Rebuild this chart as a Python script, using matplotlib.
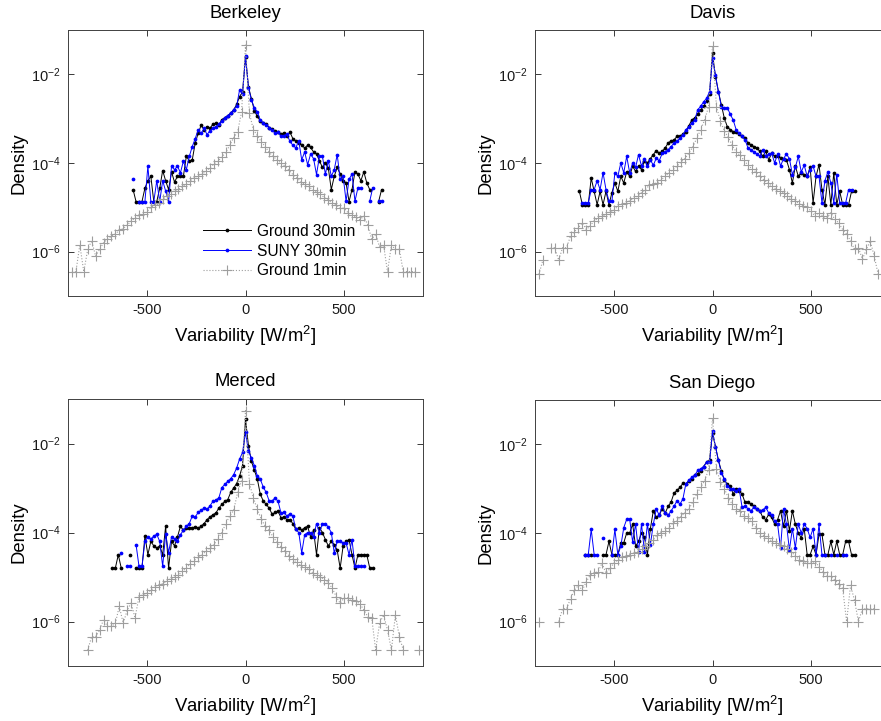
import matplotlib
matplotlib.use("Agg")
import matplotlib.pyplot as plt
import numpy as np
from matplotlib.ticker import FixedLocator, FixedFormatter, NullLocator

plt.rcParams["font.family"] = ["Liberation Sans", "DejaVu Sans"]
plt.rcParams["mathtext.fontset"] = "custom"
plt.rcParams["mathtext.rm"] = "Liberation Sans"
plt.rcParams["mathtext.it"] = "Liberation Sans:italic"
plt.rcParams["mathtext.bf"] = "Liberation Sans:bold"

nan = float("nan")

# values are log10(density), one per histogram bin
# 30 min bins: 15 W/m2 wide, 1 min bins: 20 W/m2 wide
step30 = 15
step1 = 20
start1 = -880

berkeley_start30 = -570
berkeley_ground30 = [
    -4.6, -4.87, -4.87, -4.87, -4.57, -4.4, -4.3, -4.87, -4.87, -4.57,
    -4.17, -4.4, -4.6, -4.2, -4.43, -4.3, -4.3, -4.3, -3.85, -3.95,
    -3.93, -3.55, -3.33, -3.15, -3.25, -3.18, -3.22, -3.12, -3.1, -3.15,
    -3.02, -2.98, -2.93, -2.88, -2.8, -2.68, -2.5, -2.4, -1.6, -2.28,
    -2.55, -2.82, -2.95, -3.05, -3.1, -3.12, -3.2, -3.24, -3.28, -3.3,
    -3.35, -3.32, -3.4, -3.3, -3.45, -3.5, -3.55, -3.6, -3.66, -3.6,
    -3.65, -3.75, -3.8, -3.95, -4.1, -4.0, -4.12, -4.6, -4.3, -4.1,
    -4.25, -4.4, -4.45, -4.87, -4.6, -4.2, -4.25, -4.4, -4.2, -4.45,
    -4.6, nan, nan, -4.87, -4.6]
berkeley_suny30 = [
    -4.37, nan, -4.87, -4.87, -4.87, -4.07, -4.87, -4.87, -4.4, -4.87,
    -4.4, -4.63, -4.87, -4.07, -4.15, -4.07, -4.22, -3.96, -4.15, -3.85,
    -3.63, -3.45, -3.25, -3.33, -3.22, -3.36, -3.27, -3.21, -3.18, -3.12,
    -3.05, -2.98, -2.93, -2.87, -2.8, -2.72, -2.35, -2.45, -1.59, -2.3,
    -2.58, -2.75, -2.85, -3.03, -3.1, -3.15, -3.2, -3.25, -3.33, -3.3,
    -3.4, -3.38, -3.35, -3.51, -3.6, -3.66, -3.5, -3.93, -3.75, -4.04,
    -3.8, -3.9, -4.26, -3.85, -3.85, -4.25, -3.95, -4.3, -4.15, -3.81,
    -4.37, -4.3, -4.86, -4.37, -4.25, -4.86, -4.56, -4.56, nan, nan,
    -4.86, -4.56, nan, -4.86, -4.86]
berkeley_ground1 = [
    -6.45, -6.45, -5.85, -6.45, -5.95, -5.75, -6.1, -5.95, -5.8, -5.72,
    -5.65, -5.6, -5.52, -5.48, -5.4, -5.31, -5.24, -5.18, -5.16, -5.1,
    -5.0, -4.95, -4.9, -4.82, -4.75, -4.69, -4.63, -4.59, -4.53, -4.47,
    -4.4, -4.33, -4.29, -4.25, -4.19, -4.11, -4.02, -3.96, -3.87, -3.76,
    -3.6, -3.43, -3.3, -2.85, -1.34, -2.88, -3.25, -3.38, -3.52, -3.63,
    -3.76, -3.85, -3.93, -4.0, -4.07, -4.16, -4.26, -4.33, -4.42, -4.48,
    -4.53, -4.6, -4.65, -4.71, -4.78, -4.84, -4.9, -4.95, -5.01, -5.02,
    -5.12, -5.18, -5.22, -5.28, -5.2, -5.4, -5.72, -5.6, -5.9, -5.85,
    -6.45, -5.85, -5.95, -5.95, -6.45, -6.45, -6.45, -6.45, nan]

davis_start30 = -675
davis_ground30 = [
    -4.64, -4.94, -4.94, -4.94, -4.34, -4.64, -4.94, -4.64, -4.94, -4.64,
    -4.94, -4.67, -4.45, -4.64, -4.3, -4.45, -4.2, -4.3, -4.07, -4.19,
    -4.07, -4.15, -3.95, -4.0, -3.9, -3.81, -3.72, -3.78, -3.74, -3.66,
    -3.55, -3.5, -3.48, -3.4, -3.4, -3.35, -3.29, -3.16, -3.03, -2.98,
    -2.9, -2.8, -2.72, -2.6, -2.45, -1.53, -2.05, -2.39, -2.69, -2.99,
    -3.18, -3.25, -3.29, -3.29, -3.35, -3.4, -3.44, -3.55, -3.59, -3.63,
    -3.66, -3.74, -3.85, -3.74, -3.93, -3.78, -3.85, -3.85, -3.89, -3.9,
    -3.93, -4.15, -4.45, -4.07, -4.3, -4.22, -4.26, -4.3, -4.1, -4.9,
    -4.3, -4.04, -4.6, -4.94, -4.3, -4.94, -4.22, -4.94, -4.64, -4.94,
    -4.94, -4.94, -4.64, -4.64]
davis_suny30 = [
    nan, -4.9, -4.9, -4.9, -4.6, -4.6, -4.4, -4.6, -4.22, -4.6,
    -4.86, -4.86, -4.22, -4.3, -4.0, -4.22, -3.85, -4.22, -4.0, -4.1,
    -3.81, -4.07, -3.9, -4.07, -3.93, -4.05, -3.89, -3.95, -3.78, -3.75,
    -3.7, -3.63, -3.55, -3.51, -3.44, -3.36, -3.25, -3.18, -3.1, -3.03,
    -2.8, -2.72, -2.62, -2.54, -2.39, -1.64, -2.02, -2.39, -2.73, -2.76,
    -2.75, -2.9, -3.03, -3.25, -3.33, -3.4, -3.48, -3.66, -3.7, -3.75,
    -3.8, -3.85, -3.7, -3.85, -3.8, -3.78, -4.0, -3.8, -4.07, -3.9,
    -3.8, -3.9, -4.26, -4.1, -3.85, -4.2, -4.05, -4.3, -4.15, -4.07,
    -4.3, -4.3, -4.9, -4.4, -4.2, -4.45, -4.9, -4.26, -4.9, -4.9,
    -4.9, -4.6, -4.6, nan]
davis_ground1 = [
    -6.51, -6.19, nan, -5.91, -5.91, -6.19, -5.91, -5.91, -5.65, -5.55,
    -5.46, -5.35, -5.5, -5.42, -5.3, -5.25, -5.2, -5.16, -5.1, -5.07,
    -4.97, -4.93, -4.9, -4.85, -4.8, -4.75, -4.67, -4.6, -4.5, -4.47,
    -4.45, -4.38, -4.3, -4.22, -4.15, -4.07, -3.98, -3.9, -3.78, -3.64,
    -3.44, -3.25, -3.03, -2.73, -1.36, -2.73, -3.05, -3.28, -3.42, -3.6,
    -3.75, -3.83, -3.94, -4.05, -4.13, -4.2, -4.3, -4.38, -4.45, -4.52,
    -4.58, -4.63, -4.68, -4.75, -4.82, -4.86, -4.92, -4.97, -4.99, -5.09,
    -5.2, -5.12, -5.2, -5.24, -5.12, -5.27, -5.35, -5.5, -5.6, -5.76,
    -5.95, -5.91, -6.17, -5.95, -5.76, -6.1, -6.51, nan, nan]

merced_start30 = -675
merced_ground30 = [
    -4.8, -4.8, -4.5, -4.8, nan, nan, -4.5, nan, -4.8, -4.8,
    -4.8, -4.08, -4.5, -4.2, -4.3, -4.35, -4.3, -4.5, -3.86, -4.8,
    -4.2, -4.3, -4.1, -3.86, -3.95, -3.9, -3.89, -3.9, -3.87, -3.9,
    -3.86, -3.8, -3.71, -3.65, -3.6, -3.56, -3.45, -3.37, -3.3, -3.26,
    -3.1, -3.0, -2.9, -2.73, -2.5, -1.45, -2.05, -2.4, -2.6, -2.8,
    -3.14, -3.29, -3.37, -3.45, -3.59, -3.55, -3.52, -3.67, -3.65, -3.71,
    -3.71, -3.8, -3.93, -3.9, -3.95, -3.89, -3.86, -4.1, -3.95, -4.5,
    -3.89, -4.0, -4.16, -4.3, -4.2, -4.27, -4.4, -4.8, -4.3, -4.2,
    -4.16, -4.5, -4.8, -4.5, -4.5, -4.5, -4.5, -4.8, -4.8]
merced_suny30 = [
    nan, nan, nan, -4.46, nan, -4.76, -4.76, nan, -4.27, -4.76,
    -4.76, -4.2, -4.1, -4.15, -4.08, -4.04, -4.2, -4.76, -4.04, -4.45,
    -4.1, -4.15, -4.2, -4.05, -3.95, -3.86, -3.8, -3.63, -3.65, -3.55,
    -3.5, -3.45, -3.48, -3.4, -3.3, -3.27, -3.22, -2.99, -2.92, -2.85,
    -2.79, -2.7, -2.55, -2.35, -2.2, -1.75, -2.17, -2.32, -2.5, -2.73,
    -2.8, -2.98, -3.1, -3.29, -3.29, -3.22, -3.3, -3.56, -3.55, -3.63,
    -3.58, -3.63, -3.93, -4.0, -4.46, -4.05, -4.0, -4.0, -4.1, -3.8,
    -4.0, -3.8, -3.8, -3.88, -4.0, -4.46, -4.2, -4.2, -4.23, -4.23,
    -4.5, -4.16, -4.76, -4.76, -4.76, -4.76, nan, nan, nan]
merced_ground1 = [
    nan, nan, nan, nan, -6.64, -6.34, -6.34, -6.2, -5.96, -6.11,
    -6.11, -6.04, -5.66, -6.04, -5.75, -5.58, -5.92, -5.44, -5.4, -5.36,
    -5.3, -5.22, -5.17, -5.15, -5.1, -5.04, -5.0, -4.96, -4.87, -4.8,
    -4.7, -4.63, -4.55, -4.5, -4.42, -4.35, -4.27, -4.14, -4.0, -3.8,
    -3.63, -3.5, -3.1, -2.84, -1.26, -2.9, -3.22, -3.48, -3.7, -3.86,
    -3.95, -4.1, -4.22, -4.32, -4.42, -4.52, -4.6, -4.67, -4.74, -4.78,
    -4.83, -4.9, -4.95, -5.0, -5.06, -5.13, -5.25, -5.44, -5.59, -5.47,
    -5.47, -5.51, -5.55, -5.6, -5.74, -5.89, -5.92, -6.64, -6.04, -5.85,
    -6.19, -6.64, -5.85, -6.34, -6.64, nan, nan, nan, -6.64]

sandiego_start30 = -645
sandiego_ground30 = [
    -4.49, -4.49, -4.49, nan, nan, nan, -4.49, -4.49, -4.19, -4.49,
    -4.49, -4.49, -4.22, -4.22, -4.0, -4.0, -3.8, -4.3, -4.19, -4.0,
    -4.1, -4.49, -3.9, -3.5, -3.65, -3.6, -3.45, -3.55, -3.4, -3.3,
    -3.1, -3.04, -2.97, -2.88, -2.9, -2.82, -2.78, -2.7, -2.66, -2.6,
    -2.5, -2.4, -2.36, -1.75, -2.05, -2.36, -2.6, -2.81, -2.9, -2.95,
    -3.12, -3.0, -3.05, -3.12, -3.31, -3.3, -3.35, -3.4, -3.46, -3.5,
    -3.65, -3.7, -3.58, -3.65, -3.8, -3.7, -3.5, -3.85, -3.5, -3.95,
    -3.5, -3.8, -4.0, -4.11, -3.9, -4.49, -4.49, -4.3, -4.49, -4.03,
    -4.03, -4.49, -4.49, -4.19, -4.49, -4.19, -4.49, -4.49, -4.19, -4.19,
    -4.49, -4.49]
sandiego_suny30 = [
    -4.49, -4.49, -3.92, -4.49, -4.49, nan, -4.11, nan, nan, -4.49,
    -3.92, -4.49, -4.3, -3.88, -3.69, -3.69, -4.2, -3.8, -4.42, -3.8,
    -4.42, -3.8, -4.26, -3.8, -3.46, -3.6, -3.39, -3.55, -3.6, -3.5,
    -3.4, -3.27, -3.35, -3.23, -2.89, -2.81, -2.74, -2.7, -2.59, -2.55,
    -2.5, -2.4, -2.4, -1.71, -2.05, -2.36, -2.65, -2.78, -2.93, -3.0,
    -3.0, -3.05, -3.0, -3.42, -3.4, -3.45, -3.5, -3.42, -3.45, -3.5,
    -3.48, -3.42, -3.55, -3.6, -3.73, -3.8, -4.34, -3.46, -3.8, -4.38,
    -3.9, -4.34, -3.8, -4.0, -3.8, -3.9, -4.1, -3.9, -4.49, -3.8,
    -4.49, -4.49, nan, -4.49, nan, -4.49, nan, -4.49, -4.49, nan,
    nan, nan]
sandiego_ground1 = [
    -6.0, nan, nan, nan, nan, -6.0, -5.71, -5.71, -5.48, -5.29,
    -5.18, -5.29, -5.1, -4.95, -4.91, -4.87, -4.68, -4.91, -4.8, -4.68,
    -4.61, -4.55, -4.52, -4.49, -4.45, -4.42, -4.36, -4.3, -4.22, -4.15,
    -4.05, -3.99, -3.95, -3.88, -3.77, -3.73, -3.63, -3.54, -3.46, -3.3,
    -3.12, -2.97, -2.82, -2.57, -1.41, -2.55, -2.85, -3.0, -3.2, -3.35,
    -3.45, -3.5, -3.62, -3.67, -3.73, -3.88, -3.99, -4.06, -4.11, -4.18,
    -4.22, -4.26, -4.3, -4.36, -4.42, -4.52, -4.6, -4.64, -4.68, -4.68,
    -4.64, -4.76, -4.87, -4.98, -4.98, -5.06, -5.15, -5.25, -6.0, -5.18,
    -5.52, -6.0, -5.71, -5.71, -5.71, -5.71, nan, nan, nan]

titles = ["Berkeley", "Davis", "Merced", "San Diego"]
labels = ["Ground 30min", "SUNY 30min", "Ground 1min"]

fig = plt.figure(figsize=(8.81, 7.21), dpi=100)
W, H = 881.0, 721.0
# axes boxes in pixels: left, top, width, height
boxes = [(68, 30, 355, 266), (535, 30, 355, 266),
         (68, 399, 355, 267), (535, 400, 355, 266)]
data = [
    (berkeley_start30, berkeley_ground30, berkeley_suny30, berkeley_ground1),
    (davis_start30, davis_ground30, davis_suny30, davis_ground1),
    (merced_start30, merced_ground30, merced_suny30, merced_ground1),
    (sandiego_start30, sandiego_ground30, sandiego_suny30, sandiego_ground1),
]

gray = (0.62, 0.62, 0.62)
for i in range(4):
    l, t, w, h = boxes[i]
    ax = fig.add_axes([l / W, 1 - (t + h) / H, w / W, h / H])
    start30, g30, suny, g1 = data[i]
    x30 = start30 + step30 * np.arange(len(g30))
    x1 = start1 + step1 * np.arange(len(g1))
    ax.plot(x30, 10 ** np.array(g30), color="k", lw=0.7, marker="o", ms=2.7, mew=0, label=labels[0])
    ax.plot(x30, 10 ** np.array(suny), color="b", lw=0.7, marker="o", ms=2.7, mew=0, label=labels[1])
    ax.plot(x1, 10 ** np.array(g1), color=gray, lw=0.8, ls=":", marker="+", ms=6.5, mew=0.8, label=labels[2])
    ax.set_yscale("log")
    ax.set_xlim(-900, 900)
    ax.set_ylim(1e-7, 1e-1)
    ax.xaxis.set_major_locator(FixedLocator([-500, 0, 500]))
    ax.xaxis.set_major_formatter(FixedFormatter(["-500", "0", "500"]))
    ax.xaxis.set_minor_locator(NullLocator())
    ax.yaxis.set_major_locator(FixedLocator([1e-6, 1e-4, 1e-2]))
    ax.yaxis.set_major_formatter(FixedFormatter([r"$10^{-6}$", r"$10^{-4}$", r"$10^{-2}$"]))
    ax.yaxis.set_minor_locator(NullLocator())
    ax.tick_params(direction="in", length=4, width=0.6, top=True, right=True,
                   labelsize=10.5, pad=5, colors="0.1")
    for s in ax.spines.values():
        s.set_color("0.25")
        s.set_linewidth(0.7)
    ax.set_title(titles[i], fontsize=13.3, pad=9)
    ax.set_xlabel("Variability [W/m$^2$]", fontsize=13.3, labelpad=5)
    ax.set_ylabel("Density", fontsize=13.3, labelpad=3)
    if i == 0:
        ax.legend(loc="center", bbox_to_anchor=(0.594, 0.169), frameon=False,
                  fontsize=11.2, handlelength=3.1, handletextpad=0.35,
                  labelspacing=0.3, borderpad=0, numpoints=1)

fig.savefig("out.png", dpi=100)
